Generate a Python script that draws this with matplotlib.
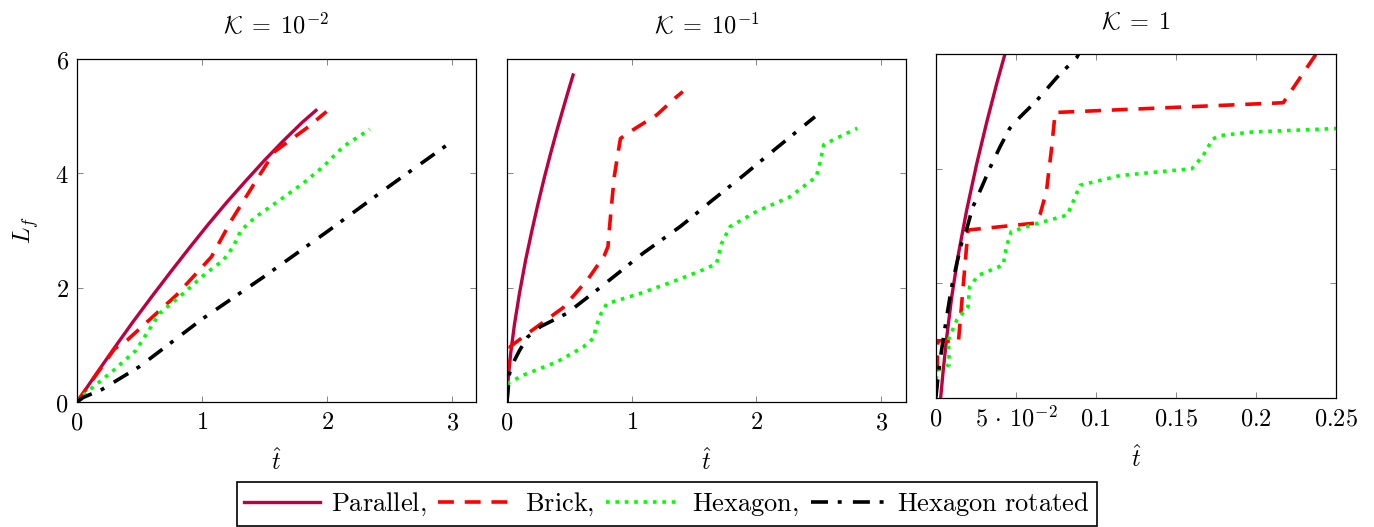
import numpy as np
import matplotlib.pyplot as plt

plt.rcParams['mathtext.fontset'] = 'cm'
plt.rcParams['font.size'] = 17

#-----------------------------------------------------------------------------
# K = 1e-2
t_par_1 = [0, 0.15, 0.3, 0.45, 0.6, 0.75, 0.9, 1.05, 1.2, 1.35, 1.5, 1.65, 1.8, 1.91]
L_par_1 = [0, 0.48, 0.95, 1.41, 1.85, 2.28, 2.70, 3.11, 3.50, 3.87, 4.23, 4.57, 4.89, 5.1]
t_bri_1 = [0, 0.30, 0.40, 0.795, 1.075, 1.235, 1.46, 1.58, 1.835, 1.995]
L_bri_1 = [0, 0.93, 1.08, 1.87, 2.54, 3.18, 3.97, 4.38, 4.79, 5.08]
t_hex_1 = [0, 0.05, 0.29, 0.47, 0.66, 0.85, 1.03, 1.17, 1.25, 1.31, 1.43, 1.62, 1.81, 1.97, 2.13, 2.34]
L_hex_1 = [0, 0.12, 0.55, 0.9, 1.55, 1.9, 2.25, 2.48, 2.72, 3.0, 3.24, 3.53, 3.83, 4.12, 4.47, 4.77]
t_rot_1 = [0, 0.05, 0.2, 0.5, 1.0, 1.5, 2.0, 2.5, 2.98]
L_rot_1 = [0, 0.08, 0.22, 0.62, 1.45, 2.2, 2.98, 3.78, 4.53]

# K = 1e-1
t_par_2 = [0, 0.01, 0.03, 0.06, 0.1, 0.15, 0.2, 0.25, 0.3, 0.35, 0.4, 0.45, 0.49, 0.53]
L_par_2 = [0, 0.42, 0.86, 1.36, 1.90, 2.49, 3.0, 3.48, 3.93, 4.35, 4.75, 5.13, 5.43, 5.72]
t_bri_2 = [0, 0.01, 0.026, 0.167, 0.45, 0.65, 0.78, 0.81, 0.82, 0.84, 0.86, 0.89, 0.91, 1.01, 1.2, 1.35, 1.41]
L_bri_2 = [0, 0.6, 0.97, 1.2, 1.65, 2.15, 2.56, 2.72, 3.0, 3.48, 3.94, 4.35, 4.61, 4.76, 5.02, 5.32, 5.43]
t_hex_2 = [0, 0.13, 0.4, 0.61, 0.69, 0.74, 0.8, 1.07, 1.36, 1.57, 1.68, 1.72, 1.79, 2.0, 2.27, 2.48,
           2.51, 2.54, 2.62, 2.81]
L_hex_2 = [0.32, 0.47, 0.7, 0.96, 1.11, 1.49, 1.72, 1.9, 2.13, 2.31, 2.42, 2.77, 3.07, 3.33, 3.59, 3.94,
           4.18, 4.5, 4.59, 4.79]
t_rot_2 = [0, 0.02, 0.06, 0.1, 0.167, 0.27, 0.48, 0.74, 1.09, 1.39, 1.47, 1.63, 1.9, 2.16, 2.47]
L_rot_2 = [0, 0.5, 0.73, 0.9, 1.14, 1.32, 1.55, 1.99, 2.6, 3.07, 3.21, 3.5, 3.97, 4.44, 4.99]

# K = 1
t_par_3 = [0.0029, 0.0046, 0.0067, 0.0098, 0.014, 0.0192, 0.0254, 0.0317, 0.038, 0.0425, 0.0442]
L_par_3 = [0, 0.51, 1.06, 1.76, 2.51, 3.28, 4.08, 4.81, 5.49, 5.94, 6.1]
t_bri_3 = [0, 0.0008, 0.0012, 0.014, 0.02, 0.062, 0.065, 0.069, 0.072, 0.0745, 0.217, 0.24]
L_bri_3 = [0, 0.6, 1.0, 0.98, 2.93, 3.05, 3.2, 3.6, 4.3, 4.98, 5.15, 6.1]
t_hex_3 = [0, 0.0015, 0.0056, 0.0083, 0.0077, 0.013, 0.02, 0.021, 0.0265, 0.042, 0.044, 0.047, 0.059,
           0.082, 0.087, 0.09, 0.115, 0.16, 0.167, 0.173, 0.178, 0.198, 0.25]
L_hex_3 = [0.32, 0.49, 0.55, 0.58, 1.01, 1.36, 1.59, 1.94, 2.14, 2.32, 2.64, 2.9, 3.01,
           3.19, 3.51, 3.71, 3.88, 4.0, 4.23, 4.52, 4.58, 4.64, 4.7]
t_rot_3 = [0, 0.0015, 0.0035, 0.0067, 0.0098, 0.013, 0.016, 0.019, 0.023, 0.0286, 0.034, 0.04, 0.046,
           0.0525, 0.063, 0.0755, 0.088, 0.09]
L_rot_3 = [0.03, 0.43, 0.84, 1.42, 1.94, 2.35, 2.7, 2.93, 3.33, 3.68, 4.03, 4.38, 4.7,
           4.9, 5.19, 5.59, 5.94, 6.05]

titles = [r'$\mathcal{K}\;=\;10^{-2}$', r'$\mathcal{K}\;=\;10^{-1}$', r'$\mathcal{K}\;=\;1$']
labels = [r'$\mathrm{Parallel,}$', r'$\mathrm{Brick,}$', r'$\mathrm{Hexagon,}$', r'$\mathrm{Hexagon\ rotated}$']
xticks_3 = [0, 0.05, 0.1, 0.15, 0.2, 0.25]
xticklabels_3 = [r'$0$', r'$5\,\cdot\,10^{-2}$', r'$0.1$', r'$0.15$', r'$0.2$', r'$0.25$']
#-----------------------------------------------------------------------------

styles = [dict(color='#BF0040', lw=2.4, ls='-'),
          dict(color='#FF0000', lw=2.6, dashes=(4.4, 3.0)),
          dict(color='#00FF00', lw=2.6, dashes=(1, 1.6)),
          dict(color='black', lw=2.6, dashes=(4.7, 2.7, 1.1, 3.1))]

def panel(ax, data, title):
  handles = []
  for (t, L), st in zip(data, styles):
    h, = ax.plot(t, L, **st)
    handles.append(h)
  ax.set_ylim(0, 6)
  ax.set_yticks([0, 2, 4, 6])
  ax.tick_params(direction='in', length=4.5, width=0.6, color='0.45',
                 top=True, right=True, labelsize=17.5, pad=6)
  for s in ax.spines.values():
    s.set_linewidth(0.9)
  ax.set_title(title, fontsize=17.5, pad=18)
  ax.set_xlabel(r'$\hat{t}$', fontsize=17.5, labelpad=10)
  return handles

fig = plt.figure(figsize=(13.74, 5.27), dpi=100)
ax1 = fig.add_axes([77/1374, 1-402/527, 399/1374, 343/527])
ax2 = fig.add_axes([507/1374, 1-402/527, 399/1374, 343/527])
ax3 = fig.add_axes([936/1374, 1-398/527, 400/1374, 344/527])

h = panel(ax1, [(t_par_1, L_par_1), (t_bri_1, L_bri_1), (t_hex_1, L_hex_1), (t_rot_1, L_rot_1)], titles[0])
ax1.set_xlim(0, 3.19)
ax1.set_xticks([0, 1, 2, 3])
ax1.set_xticklabels([r'$%d$' % v for v in [0, 1, 2, 3]])
ax1.set_yticklabels([r'$%d$' % v for v in [0, 2, 4, 6]])
ax1.set_ylabel(r'$L_f$', fontsize=17.5, labelpad=10)

panel(ax2, [(t_par_2, L_par_2), (t_bri_2, L_bri_2), (t_hex_2, L_hex_2), (t_rot_2, L_rot_2)], titles[1])
ax2.set_xlim(0, 3.2)
ax2.set_xticks([0, 1, 2, 3])
ax2.set_xticklabels([r'$%d$' % v for v in [0, 1, 2, 3]])
ax2.set_yticklabels([])

panel(ax3, [(t_par_3, L_par_3), (t_bri_3, L_bri_3), (t_hex_3, L_hex_3), (t_rot_3, L_rot_3)], titles[2])
ax3.set_xlim(0, 0.25)
ax3.set_xticks(xticks_3)
ax3.set_xticklabels(xticklabels_3)
ax3.set_yticklabels([])

leg = fig.legend(h, labels, loc='center', bbox_to_anchor=(667/1374, 1-504/527), ncol=4,
                 fontsize=19, handlelength=2.85, handletextpad=0.42, columnspacing=0.45,
                 borderpad=0.3, fancybox=False, framealpha=1, edgecolor='black')
leg.get_frame().set_linewidth(1.2)

fig.savefig('out.png', dpi=100)
